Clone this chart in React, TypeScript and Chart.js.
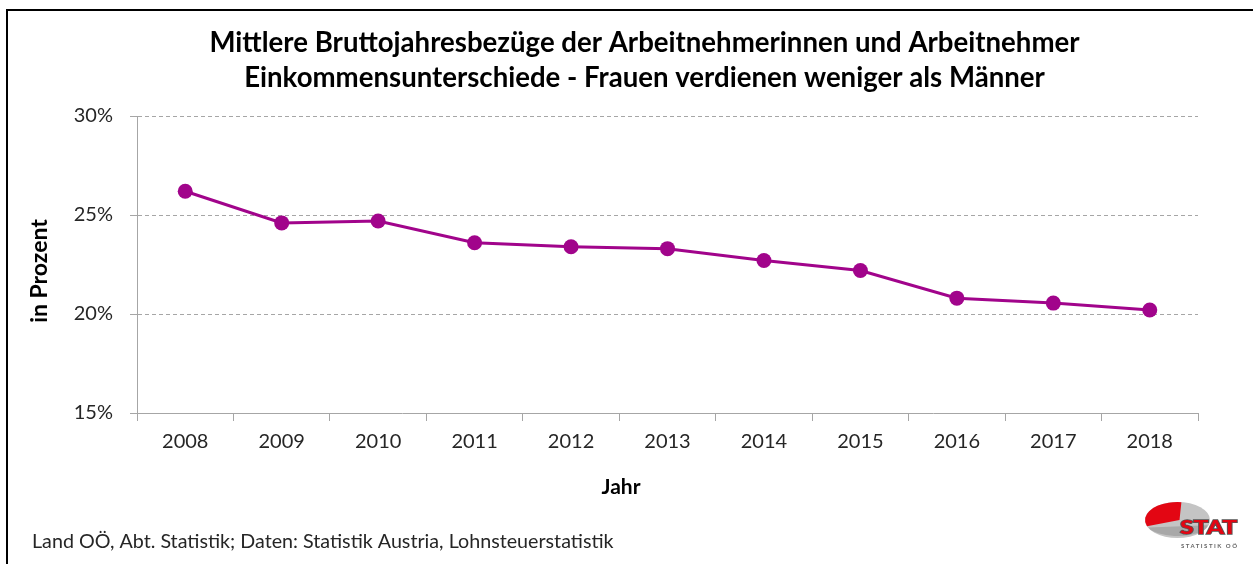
import React, { useEffect, useRef } from "react";
import { Chart, registerables } from "chart.js";

Chart.register(...registerables);

const YEARS = ["2008", "2009", "2010", "2011", "2012", "2013", "2014", "2015", "2016", "2017", "2018"];
const GAP_PERCENT = [26.2, 24.6, 24.7, 23.6, 23.4, 23.3, 22.7, 22.2, 20.8, 20.55, 20.2];
const TITLE_LINES = [
  "Mittlere Bruttojahresbezüge der Arbeitnehmerinnen und Arbeitnehmer",
  "Einkommensunterschiede - Frauen verdienen weniger als Männer",
];
const Y_TITLE = "in Prozent";
const X_TITLE = "Jahr";
const SOURCE = "Land OÖ, Abt. Statistik; Daten: Statistik Austria, Lohnsteuerstatistik";
const Y_MIN = 15;
const Y_MAX = 30;
const Y_STEP = 5;

const W = 1253;
const H = 564;
const FONT = "Lato, 'Open Sans', sans-serif";
const LINE_COLOR = "#a1048b";
const GRID = "#a6a6a6";
const TEXT = "#262626";

const decorPlugin = {
  id: "decor",
  afterDraw(chart: any) {
    const ctx = chart.ctx as CanvasRenderingContext2D;
    ctx.save();
    // frame
    ctx.fillStyle = "#000";
    ctx.fillRect(6, 9, W, 2);
    ctx.fillRect(6, 9, 2, H);

    // title
    ctx.fillStyle = "#000";
    ctx.font = `bold 27.6px ${FONT}`;
    ctx.textAlign = "center";
    ctx.textBaseline = "alphabetic";
    ctx.fillText(TITLE_LINES[0], 644.5, 52);
    ctx.fillText(TITLE_LINES[1], 644.5, 87);

    // axis titles
    ctx.font = `bold 21px ${FONT}`;
    ctx.textBaseline = "middle";
    ctx.fillText(X_TITLE, 621, 487);
    ctx.font = `bold 23px ${FONT}`;
    ctx.save();
    ctx.translate(40, 271);
    ctx.rotate(-Math.PI / 2);
    ctx.fillText(Y_TITLE, 0, 0);
    ctx.restore();

    // source
    ctx.fillStyle = TEXT;
    ctx.font = `19.7px ${FONT}`;
    ctx.textAlign = "left";
    ctx.textBaseline = "alphabetic";
    ctx.fillText(SOURCE, 32, 548);

    // logo
    const cx = 1177.5, cy = 520, rx = 32.5, ry = 18;
    ctx.beginPath();
    ctx.ellipse(cx, cy, rx, ry, 0, 0, Math.PI * 2);
    ctx.fillStyle = "#c4c4c4";
    ctx.fill();
    ctx.beginPath();
    ctx.ellipse(cx, cy + 4, rx - 2, ry - 6, 0, 0.1, Math.PI - 0.3);
    ctx.fillStyle = "#a8a8a8";
    ctx.fill();
    ctx.beginPath();
    ctx.moveTo(cx + 2, cy);
    ctx.ellipse(cx, cy, rx, ry, 0, -Math.PI / 2 + 0.12, Math.PI - 0.35, true);
    ctx.closePath();
    ctx.fillStyle = "#e30613";
    ctx.fill();
    ctx.save();
    ctx.translate(1180, 534);
    ctx.scale(1.3, 1);
    ctx.font = `900 19px ${FONT}`;
    ctx.lineWidth = 1.5;
    ctx.strokeStyle = "#555";
    ctx.strokeText("STAT", 0, 0);
    ctx.fillStyle = "#e30613";
    ctx.fillText("STAT", 0, 0);
    ctx.restore();
    ctx.fillStyle = "#666";
    ctx.font = `bold 6px ${FONT}`;
    (ctx as any).letterSpacing = "1.5px";
    ctx.fillText("STATISTIK OÖ", 1181, 548);
    ctx.restore();
  },
};

export default function App() {
  const ref = useRef<HTMLCanvasElement | null>(null);

  useEffect(() => {
    if (!ref.current) return;
    Chart.defaults.font.family = FONT;
    const chart = new Chart(ref.current, {
      type: "line",
      data: {
        labels: YEARS,
        datasets: [
          {
            label: "Einkommensunterschied",
            data: GAP_PERCENT,
            borderColor: LINE_COLOR,
            backgroundColor: LINE_COLOR,
            borderWidth: 3,
            pointRadius: 7.5,
            pointBorderWidth: 0,
            pointBackgroundColor: LINE_COLOR,
            tension: 0,
            clip: false as any,
          },
        ],
      },
      options: {
        responsive: false,
        animation: false,
        devicePixelRatio: 1,
        layout: { padding: { top: 116, right: 55, bottom: 0, left: 0 } },
        plugins: {
          legend: { display: false },
          tooltip: { enabled: false },
          title: { display: false },
        },
        scales: {
          x: {
            type: "category",
            offset: true,
            afterFit(scale: any) {
              scale.height = H - 413;
            },
            grid: {
              offset: true,
              drawOnChartArea: false,
              drawTicks: true,
              tickLength: 8,
              color: GRID,
              tickColor: GRID,
            },
            border: { display: true, color: GRID, width: 1 },
            ticks: {
              color: TEXT,
              font: { size: 20, family: FONT },
              padding: 9,
              maxRotation: 0,
              autoSkip: false,
            },
          },
          y: {
            min: Y_MIN,
            max: Y_MAX,
            afterFit(scale: any) {
              scale.width = 137;
            },
            grid: {
              color: GRID,
              drawTicks: true,
              tickLength: 7,
              tickColor: GRID,
              tickBorderDash: [],
              lineWidth: 1,
            } as any,
            border: { display: true, color: GRID, width: 1, dash: [4, 3] } as any,
            ticks: {
              stepSize: Y_STEP,
              color: TEXT,
              font: { size: 20, family: FONT },
              padding: 17,
              callback: (v: any) => `${v}%`,
            },
          },
        },
      } as any,
      plugins: [decorPlugin],
    });
    return () => chart.destroy();
  }, []);

  return (
    <div style={{ position: "absolute", left: 0, top: 0, width: W, height: H, background: "#fff" }}>
      <canvas ref={ref} width={W} height={H} style={{ display: "block", width: W, height: H }} />
    </div>
  );
}
